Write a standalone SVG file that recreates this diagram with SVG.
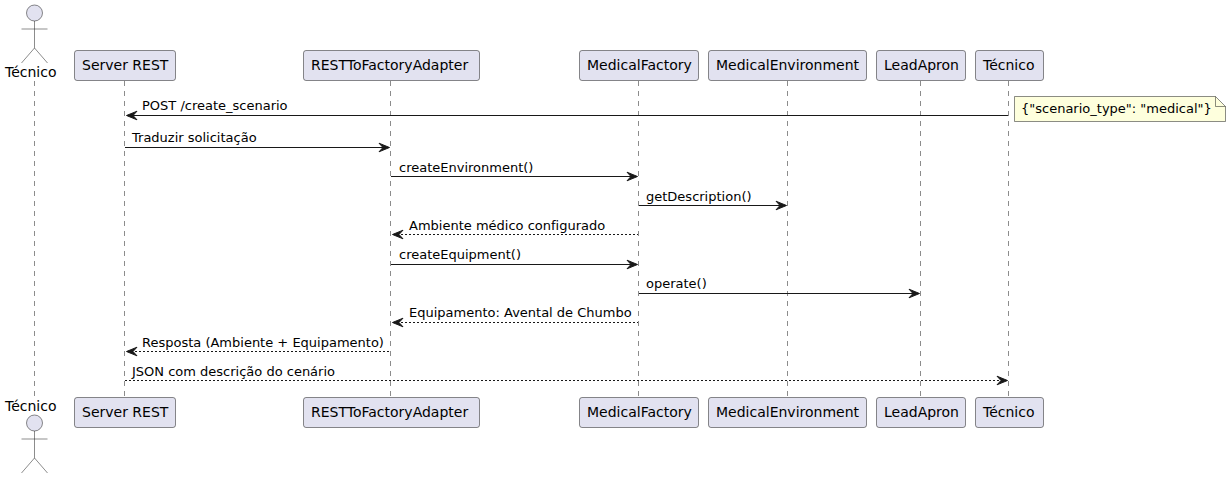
<svg xmlns="http://www.w3.org/2000/svg" width="1231" height="478" viewBox="0 0 1231 478">
<style>
.life{stroke:#181818;stroke-width:.5;stroke-dasharray:5,5;fill:none}
.box{fill:#E2E2F0;stroke:#181818;stroke-width:.5}
.act{fill:#E2E2F0;stroke:#181818;stroke-width:.5}
.lim{fill:none;stroke:#181818;stroke-width:.5}
text{font-family:"DejaVu Sans",sans-serif;font-variant-ligatures:none;fill:#000}
.t{font-size:14px}
.m{font-size:13px}
.s{stroke:#181818;stroke-width:1;fill:none}
.d{stroke:#181818;stroke-width:1;fill:none;stroke-dasharray:2,2}
.h{fill:#181818;stroke:#181818;stroke-width:1}
</style>
<defs>
<g id="man"><circle cx="0" cy="0" r="8" class="act"/><path d="M0 8V35M-13 16H13M0 35L-13 50M0 35L13 50" class="lim"/></g>
<path id="hl" d="M0 0L10.5 -4.3L6.5 0L10.5 4.3Z"/>
</defs>
<g id="lifelines">
<line class="life" x1="34.5" y1="81" x2="34.5" y2="398"/>
<line class="life" x1="124.5" y1="81" x2="124.5" y2="398"/>
<line class="life" x1="390.5" y1="81" x2="390.5" y2="398"/>
<line class="life" x1="638.5" y1="81" x2="638.5" y2="398"/>
<line class="life" x1="787.5" y1="81" x2="787.5" y2="398"/>
<line class="life" x1="920.5" y1="81" x2="920.5" y2="398"/>
<line class="life" x1="1008.5" y1="81" x2="1008.5" y2="398"/>
</g>
<g id="connectors">
<g id="c1"><line class="s" x1="127" y1="115.5" x2="1008" y2="115.5"/><use href="#hl" class="h" x="126.5" y="115.5"/><text class="m" x="142" y="110">POST /create_scenario</text></g>
<g id="c2"><line class="s" x1="125" y1="147.5" x2="389" y2="147.5"/><use href="#hl" class="h" transform="translate(389.5 147.5) scale(-1 1)"/><text class="m" x="132" y="142">Traduzir solicitação</text></g>
<g id="c3"><line class="s" x1="391" y1="176.5" x2="637" y2="176.5"/><use href="#hl" class="h" transform="translate(637.5 176.5) scale(-1 1)"/><text class="m" x="399" y="172">createEnvironment()</text></g>
<g id="c4"><line class="s" x1="639" y1="205.5" x2="786" y2="205.5"/><use href="#hl" class="h" transform="translate(786.5 205.5) scale(-1 1)"/><text class="m" x="646" y="201">getDescription()</text></g>
<g id="c5"><line class="d" x1="393" y1="234.5" x2="638" y2="234.5"/><use href="#hl" class="h" x="392.5" y="234.5"/><text class="m" x="409" y="230">Ambiente médico configurado</text></g>
<g id="c6"><line class="s" x1="391" y1="264.5" x2="637" y2="264.5"/><use href="#hl" class="h" transform="translate(637.5 264.5) scale(-1 1)"/><text class="m" x="399" y="259">createEquipment()</text></g>
<g id="c7"><line class="s" x1="639" y1="293.5" x2="919" y2="293.5"/><use href="#hl" class="h" transform="translate(919.5 293.5) scale(-1 1)"/><text class="m" x="646" y="288">operate()</text></g>
<g id="c8"><line class="d" x1="393" y1="322.5" x2="638" y2="322.5"/><use href="#hl" class="h" x="392.5" y="322.5"/><text class="m" x="409" y="317">Equipamento: Avental de Chumbo</text></g>
<g id="c9"><line class="d" x1="127" y1="351.5" x2="390" y2="351.5"/><use href="#hl" class="h" x="126.5" y="351.5"/><text class="m" x="142" y="347">Resposta (Ambiente + Equipamento)</text></g>
<g id="c10"><line class="d" x1="125" y1="380.5" x2="1007" y2="380.5"/><use href="#hl" class="h" transform="translate(1007.5 380.5) scale(-1 1)"/><text class="m" x="132" y="376">JSON com descrição do cenário</text></g>
</g>
<g id="actor-top"><use href="#man" x="34.5" y="13"/><text class="t" x="5" y="77">Técnico</text></g>
<g id="actor-bottom"><use href="#man" x="34.5" y="423"/><text class="t" x="5" y="411">Técnico</text></g>
<g id="server-top"><rect class="box" x="74.5" y="50.5" width="101" height="30" rx="2.5"/><text class="t" x="82" y="70">Server REST</text></g>
<g id="adapter-top"><rect class="box" x="303.5" y="50.5" width="176" height="30" rx="2.5"/><text class="t" x="311" y="70">RESTToFactoryAdapter</text></g>
<g id="factory-top"><rect class="box" x="579.5" y="50.5" width="119" height="30" rx="2.5"/><text class="t" x="587" y="70">MedicalFactory</text></g>
<g id="env-top"><rect class="box" x="708.5" y="50.5" width="158" height="30" rx="2.5"/><text class="t" x="716" y="70">MedicalEnvironment</text></g>
<g id="apron-top"><rect class="box" x="876.5" y="50.5" width="89" height="30" rx="2.5"/><text class="t" x="884" y="70">LeadApron</text></g>
<g id="tecnico-top"><rect class="box" x="975.5" y="50.5" width="68" height="30" rx="2.5"/><text class="t" x="983" y="70">Técnico</text></g>
<g id="server-bottom"><rect class="box" x="74.5" y="397.5" width="101" height="30" rx="2.5"/><text class="t" x="82" y="417">Server REST</text></g>
<g id="adapter-bottom"><rect class="box" x="303.5" y="397.5" width="176" height="30" rx="2.5"/><text class="t" x="311" y="417">RESTToFactoryAdapter</text></g>
<g id="factory-bottom"><rect class="box" x="579.5" y="397.5" width="119" height="30" rx="2.5"/><text class="t" x="587" y="417">MedicalFactory</text></g>
<g id="env-bottom"><rect class="box" x="708.5" y="397.5" width="158" height="30" rx="2.5"/><text class="t" x="716" y="417">MedicalEnvironment</text></g>
<g id="apron-bottom"><rect class="box" x="876.5" y="397.5" width="89" height="30" rx="2.5"/><text class="t" x="884" y="417">LeadApron</text></g>
<g id="tecnico-bottom"><rect class="box" x="975.5" y="397.5" width="68" height="30" rx="2.5"/><text class="t" x="983" y="417">Técnico</text></g>
<g id="note"><path d="M1014.5 96.5H1215.5L1225.5 106.5V121.5H1014.5Z" fill="#FEFFDD" stroke="#181818" stroke-width=".5"/><path d="M1215.5 96.5V106.5H1225.5" fill="none" stroke="#181818" stroke-width=".5"/><text class="m" x="1021" y="113">{"scenario_type": "medical"}</text></g>
</svg>
